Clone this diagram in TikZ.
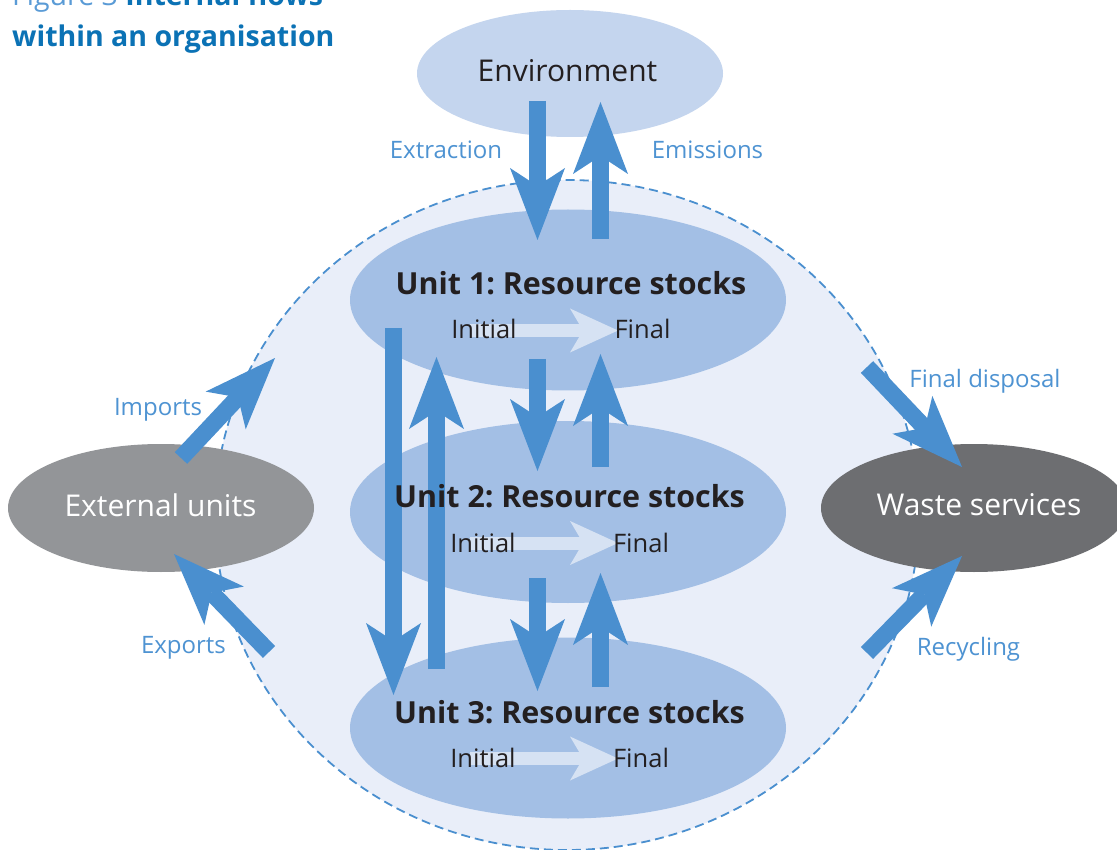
\documentclass[tikz,border=0pt]{standalone}
\usepackage{fontspec}
\setmainfont{Open Sans}
\frenchspacing
\usetikzlibrary{arrows.meta,shapes.geometric}
\definecolor{flowblue}{RGB}{74,143,207}
\definecolor{labelblue}{RGB}{78,147,210}
\definecolor{orgfill}{RGB}{233,238,249}
\definecolor{unitfill}{RGB}{163,191,229}
\definecolor{envfill}{RGB}{196,213,238}
\definecolor{innerarrow}{RGB}{214,226,243}
\definecolor{extgray}{RGB}{147,149,152}
\definecolor{wastegray}{RGB}{109,110,113}
\definecolor{darktext}{RGB}{35,31,32}
\definecolor{titleblue}{RGB}{11,114,181}
\definecolor{figblue}{RGB}{90,155,214}
\tikzset{
  blob/.style={ellipse, inner sep=0pt, draw=none},
  flow/.style={draw=flowblue, line width=17pt,
    -{Stealth[length=72pt, width=55pt, inset=18pt, line width=0pt, fill=flowblue]}},
  inner flow/.style={draw=innerarrow, line width=13pt,
    -{Stealth[length=48pt, width=44pt, inset=13pt, line width=0pt, fill=innerarrow]}},
  flowlabel/.style={anchor=base, text=labelblue, font=\fontsize{24}{28}\selectfont, inner sep=0pt},
  unithead/.style={anchor=base, text=darktext, font=\bfseries\fontsize{30.4}{36}\selectfont, inner sep=0pt},
  stocklabel/.style={anchor=base, text=darktext, font=\fontsize{25.5}{30}\selectfont, inner sep=0pt},
  bigname/.style={anchor=base, font=\fontsize{30}{36}\selectfont, inner sep=0pt},
}
\begin{document}
\begin{tikzpicture}[x=1pt, y=-1pt]
\useasboundingbox (0,0) rectangle (1117,850);
\clip (0,0) rectangle (1117,850);
\fill[white] (0,0) rectangle (1117,850);

% organisation boundary
\node[blob, fill=orgfill, draw=flowblue, line width=1.8pt, dash pattern=on 9pt off 5pt,
  minimum width=704pt, minimum height=670pt] (org) at (567,515) {};

% outer ellipses
\node[blob, fill=envfill, minimum width=306pt, minimum height=127pt] (env) at (570,73.5) {};
\node[blob, fill=extgray, minimum width=306pt, minimum height=128pt] (ext) at (161,508) {};
\node[blob, fill=wastegray, minimum width=306pt, minimum height=128pt] (waste) at (974,508) {};

% unit ellipses
\node[blob, fill=unitfill, minimum width=436pt, minimum height=181pt] (u1) at (568,300) {};
\node[blob, fill=unitfill, minimum width=436pt, minimum height=182pt] (u2) at (568,512) {};
\node[blob, fill=unitfill, minimum width=436pt, minimum height=181pt] (u3) at (568,728) {};

% arrow end points
\coordinate (exA) at (537.5,101);  \coordinate (exB) at (537.5,240);
\coordinate (emA) at (600.5,239);  \coordinate (emB) at (600.5,102);
\coordinate (d12A) at (537.5,359); \coordinate (d12B) at (537.5,471);
\coordinate (u21A) at (600.5,467); \coordinate (u21B) at (600.5,354);
\coordinate (d23A) at (537.5,578); \coordinate (d23B) at (537.5,691);
\coordinate (u32A) at (600.5,687); \coordinate (u32B) at (600.5,573);
\coordinate (d13A) at (393.5,328); \coordinate (d13B) at (393.5,695);
\coordinate (u31A) at (436.5,669); \coordinate (u31B) at (436.5,357);
\coordinate (impA) at (181,458);   \coordinate (impB) at (275,358);
\coordinate (expA) at (269,652);   \coordinate (expB) at (174,554);
\coordinate (fdA) at (867,367);    \coordinate (fdB) at (962,467);
\coordinate (recA) at (867,653);   \coordinate (recB) at (962,556);
\coordinate (i1A) at (470,330.5);  \coordinate (i1B) at (618,330.5);
\coordinate (i2A) at (470,543);    \coordinate (i2B) at (618,543);
\coordinate (i3A) at (470,758.5);  \coordinate (i3B) at (618,758.5);

% inner stock arrows
\draw[inner flow] (i1A) -- (i1B);
\draw[inner flow] (i2A) -- (i2B);
\draw[inner flow] (i3A) -- (i3B);

% flows
\draw[flow] (exA) -- (exB);
\draw[flow] (emA) -- (emB);
\draw[flow] (d12A) -- (d12B);
\draw[flow] (u21A) -- (u21B);
\draw[flow] (d23A) -- (d23B);
\draw[flow] (u32A) -- (u32B);
\draw[flow] (d13A) -- (d13B);
\draw[flow] (u31A) -- (u31B);
\draw[flow] (impA) -- (impB);
\draw[flow] (expA) -- (expB);
\draw[flow] (fdA) -- (fdB);
\draw[flow] (recA) -- (recB);

% texts
\node[bigname, text=darktext] (envT) at (567.5,82) {Environment};
\node[bigname, text=white] (extT) at (160.5,516) {External units};
\node[bigname, text=white] (wasteT) at (979,515) {Waste services};

\node[unithead] (u1T) at (571,295) {Unit 1: Resource stocks};
\node[unithead] (u2T) at (569.5,507) {Unit 2: Resource stocks};
\node[unithead] (u3T) at (569.5,723) {Unit 3: Resource stocks};

\node[stocklabel] (u1I) at (484,339) {Initial};
\node[stocklabel] (u1F) at (642.5,339) {Final};
\node[stocklabel] (u2I) at (483,552) {Initial};
\node[stocklabel] (u2F) at (641,552) {Final};
\node[stocklabel] (u3I) at (483,767) {Initial};
\node[stocklabel] (u3F) at (641,767) {Final};

\node[flowlabel] (exL) at (446,159) {Extraction};
\node[flowlabel] (emL) at (707.5,159) {Emissions};
\node[flowlabel] (impL) at (158,415) {Imports};
\node[flowlabel] (expL) at (183.5,653) {Exports};
\node[flowlabel] (fdL) at (985,388) {Final disposal};
\node[flowlabel] (recL) at (968.5,655) {Recycling};

% title
\node[anchor=base west, inner sep=0pt, font=\fontsize{28.5}{34}\selectfont] (title1) at (12,6)
  {\textcolor{figblue}{Figure 3} \textcolor{titleblue}{\bfseries Internal flows}};
\node[anchor=base west, inner sep=0pt, text=titleblue, font=\bfseries\fontsize{28.5}{34}\selectfont] (title2) at (12,47)
  {within an organisation};
\end{tikzpicture}
\end{document}
